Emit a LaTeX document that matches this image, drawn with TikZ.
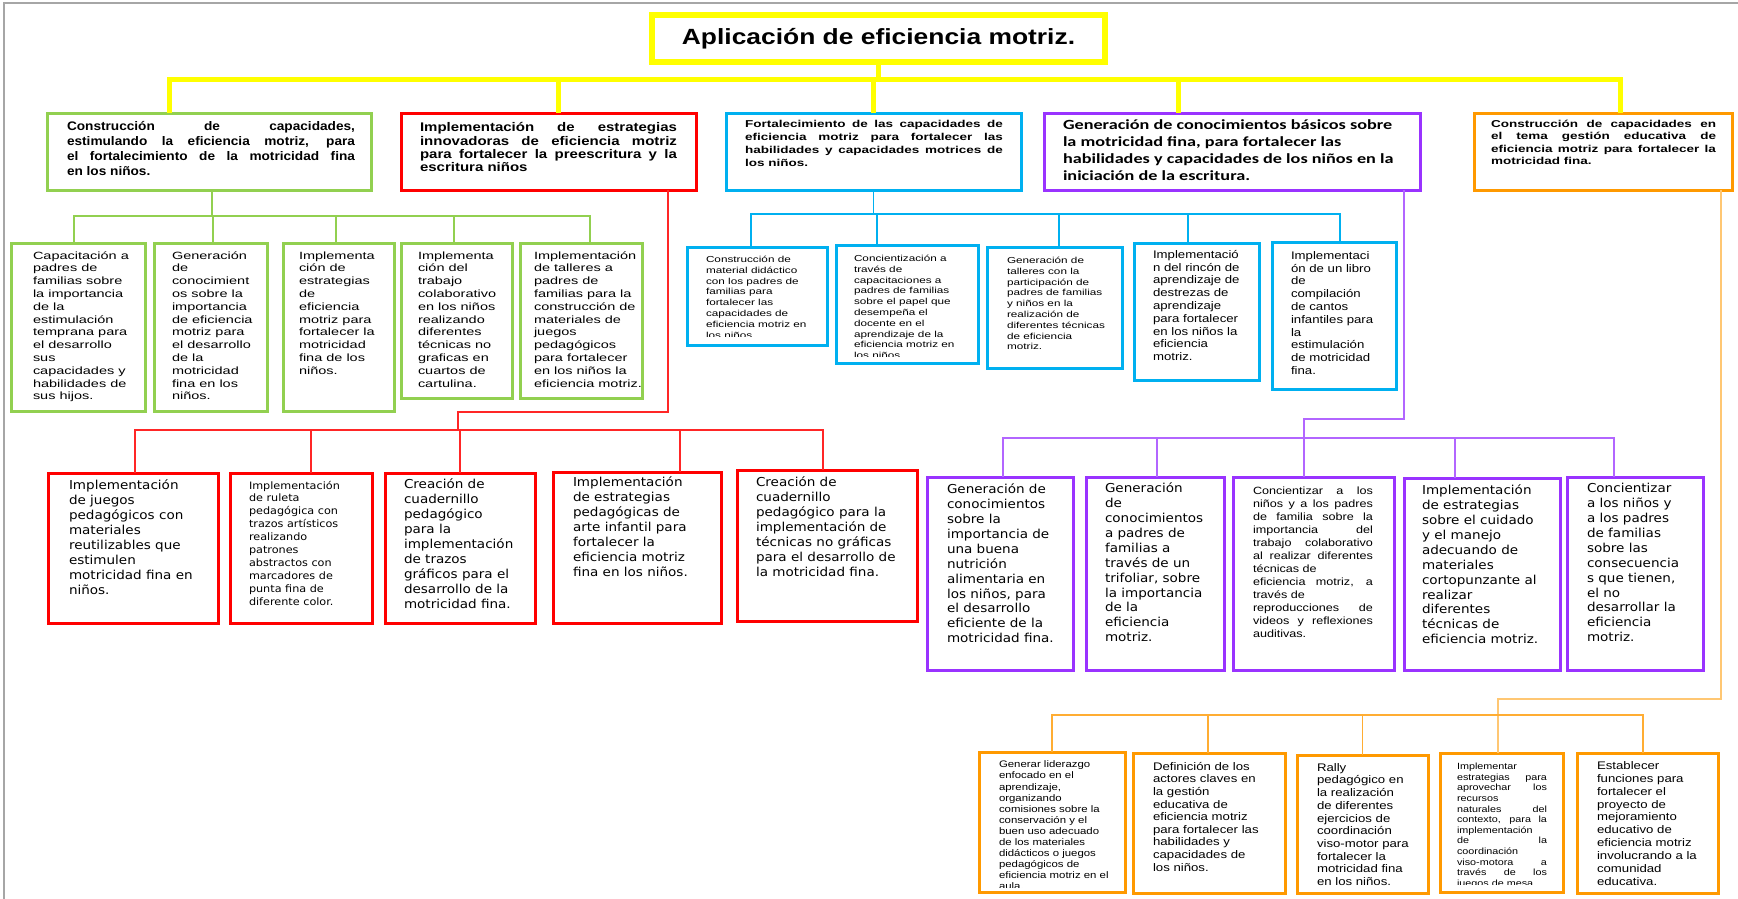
\documentclass[tikz,border=0pt]{standalone}
\usepackage{fontspec}
\setmainfont{Liberation Sans}[FakeStretch=1.2]
\newfontfamily\lsm{Liberation Sans}[FakeStretch=1.1]
\newfontfamily\lsg{Liberation Sans}[FakeStretch=1.38]
\newfontfamily\lsw{Liberation Sans}[FakeStretch=1.35]
\newfontfamily\carl{Carlito}[FakeStretch=1.3]
\newfontfamily\dvs{DejaVu Sans}[FakeStretch=1.1]
\hyphenpenalty=10000
\exhyphenpenalty=10000
\definecolor{cyel}{HTML}{FFFF00}
\definecolor{cgrn}{HTML}{92D050}
\definecolor{cred}{HTML}{FF0000}
\definecolor{cblu}{HTML}{00B0F0}
\definecolor{cpur}{HTML}{9933FF}
\definecolor{corg}{HTML}{FF9900}
\tikzset{
  bx/.style={draw=#1, line width=3pt, inner sep=0pt, outer sep=0pt, anchor=north west},
  tl/.style={inner sep=0pt, outer sep=0pt, anchor=north west, align=left},
  tj/.style={inner sep=0pt, outer sep=0pt, anchor=north west, text width=#1, align=justify},
  ycn/.style={draw=cyel, line width=5pt},
  gcn/.style={draw=cgrn, line width=1.6pt},
  rcn/.style={draw=cred!85, line width=1.6pt},
  bcn/.style={draw=cblu, line width=1.6pt},
  pcn/.style={draw=cpur!75, line width=1.6pt},
  ocn/.style={draw=corg!80, line width=1.8pt},
  fg/.style={font=\lsg\fontsize{10.5}{12.8}\selectfont},
  fr/.style={font=\dvs\fontsize{12.3}{15}\selectfont},
  frs/.style={font=\dvs\fontsize{10.2}{12.9}\selectfont},
  fbs/.style={font=\lsw\fontsize{8.7}{10.8}\selectfont},
  fbl/.style={font=\fontsize{11}{12.8}\selectfont},
  fp/.style={font=\dvs\fontsize{12.3}{14.9}\selectfont},
  fps/.style={font=\fontsize{10.5}{13}\selectfont},
}
\begin{document}
\begin{tikzpicture}[x=1pt,y=-1pt]
\useasboundingbox (0,0) rectangle (1738,899);
\draw[gray!70, line width=1.5pt] (4,899) -- (4,3) -- (1738,3);

% ---------- title ----------
\node[bx=cyel, line width=5.5pt, minimum width=453, minimum height=47] (T) at (652,15) {};
\node[inner sep=0pt, font=\bfseries\fontsize{22}{26}\selectfont] (Tt) at (T.center) {Aplicación de eficiencia motriz.};

% ---------- headers ----------
\node[bx=cgrn, minimum width=324, minimum height=77] (G0) at (47,113) {};
\node[bx=cred, minimum width=295, minimum height=77] (R0) at (401,113) {};
\node[bx=cblu, minimum width=295, minimum height=77] (B0) at (726,113) {};
\node[bx=cpur, minimum width=376, minimum height=77] (P0) at (1044,113) {};
\node[bx=corg, minimum width=258, minimum height=77] (O0) at (1474,113) {};

\node[tj=288pt, font=\lsm\bfseries\fontsize{12.4}{15}\selectfont] (G0t) at (67,120.4)
 {\strut Construcción de capacidades,\linebreak estimulando la eficiencia motriz, para\linebreak el fortalecimiento de la motricidad fina\linebreak en los niños.};
\node[tj=257pt, font=\bfseries\fontsize{12.5}{13.3}\selectfont] (R0t) at (420,122.4)
 {\strut Implementación de estrategias\linebreak innovadoras de eficiencia motriz\linebreak para fortalecer la preescritura y la\linebreak escritura niños};
\node[tj=258pt, font=\lsw\bfseries\fontsize{10}{13}\selectfont] (B0t) at (745,118)
 {\strut Fortalecimiento de las capacidades de\linebreak eficiencia motriz para fortalecer las\linebreak habilidades y capacidades motrices de\linebreak los niños.};
\node[tl, font=\carl\bfseries\fontsize{14}{17}\selectfont] (P0t) at (1063,117.3)
 {\strut Generación de conocimientos básicos sobre\\ la motricidad fina, para fortalecer las\\ habilidades y capacidades de los niños en la\\ iniciación de la escritura.};
\node[tj=225pt, font=\lsw\bfseries\fontsize{10}{12.6}\selectfont] (O0t) at (1491,118.2)
 {\strut Construcción de capacidades en\linebreak el tema gestión educativa de\linebreak eficiencia motriz para fortalecer la\linebreak motricidad fina.};

% ---------- yellow connectors ----------
\coordinate (yb) at (878.5,80);
\draw[ycn] (T.south) -- (yb);
\draw[ycn] ([xshift=-40pt]G0.north) |- (yb);
\draw[ycn] ([xshift=9.5pt]R0.north) |- (yb);
\draw[ycn] (B0.north) |- (yb);
\draw[ycn] ([xshift=-54pt]P0.north) |- (yb);
\draw[ycn] ([xshift=17pt]O0.north) |- (yb);

% ---------- green children ----------
\node[bx=cgrn, minimum width=134, minimum height=168] (g1) at (11,243) {};
\node[bx=cgrn, minimum width=113, minimum height=168] (g2) at (154,243) {};
\node[bx=cgrn, minimum width=111, minimum height=168] (g3) at (283,243) {};
\node[bx=cgrn, minimum width=111, minimum height=155] (g4) at (401,243) {};
\node[bx=cgrn, minimum width=122, minimum height=155] (g5) at (520,243) {};
\node[tl, fg] (g1t) at (33,250.2) {\strut Capacitación a\\ padres de\\ familias sobre\\ la importancia\\ de la\\ estimulación\\ temprana para\\ el desarrollo\\ sus\\ capacidades y\\ habilidades de\\ sus hijos.};
\node[tl, fg] (g2t) at (172,250.2) {\strut Generación\\ de\\ conocimient\\ os sobre la\\ importancia\\ de eficiencia\\ motriz para\\ el desarrollo\\ de la\\ motricidad\\ fina en los\\ niños.};
\node[tl, fg] (g3t) at (299,250.2) {\strut Implementa\\ ción de\\ estrategias\\ de\\ eficiencia\\ motriz para\\ fortalecer la\\ motricidad\\ fina de los\\ niños.};
\node[tl, fg] (g4t) at (418,250.2) {\strut Implementa\\ ción del\\ trabajo\\ colaborativo\\ en los niños\\ realizando\\ diferentes\\ técnicas no\\ graficas en\\ cuartos de\\ cartulina.};
\node[tl, fg] (g5t) at (534,250.2) {\strut Implementación\\ de talleres a\\ padres de\\ familias para la\\ construcción de\\ materiales de\\ juegos\\ pedagógicos\\ para fortalecer\\ en los niños la\\ eficiencia motriz.};
\coordinate (gb) at (212,216);
\draw[gcn] ([xshift=3pt]G0.south) -- (gb);
\draw[gcn] ([xshift=-4pt]g1.north) |- (gb);
\draw[gcn] ([xshift=9pt]g5.north) |- (gb);
\draw[gcn] ([xshift=2.5pt]g2.north) -- ([xshift=2.5pt]g2.north |- gb);
\draw[gcn] ([xshift=-2.5pt]g3.north) -- ([xshift=-2.5pt]g3.north |- gb);
\draw[gcn] ([xshift=-2.5pt]g4.north) -- ([xshift=-2.5pt]g4.north |- gb);

% ---------- blue children ----------
\node[bx=cblu, minimum width=140, minimum height=98] (b1) at (687,247) {};
\node[bx=cblu, minimum width=142, minimum height=118] (b2) at (836,245) {};
\node[bx=cblu, minimum width=135, minimum height=121] (b3) at (987,247) {};
\node[bx=cblu, minimum width=125, minimum height=137] (b4) at (1134,243) {};
\node[bx=cblu, minimum width=124, minimum height=147] (b5) at (1272,242) {};
\begin{scope}
\clip (687,247) rectangle (827,336.5);
\node[tl, fbs] (b1t) at (706,255) {\strut Construcción de\\ material didáctico\\ con los padres de\\ familias para\\ fortalecer las\\ capacidades de\\ eficiencia motriz en\\ los niños.};
\end{scope}
\begin{scope}
\clip (836,245) rectangle (978,356);
\node[tl, fbs] (b2t) at (854,254) {\strut Concientización a\\ través de\\ capacitaciones a\\ padres de familias\\ sobre el papel que\\ desempeña el\\ docente en el\\ aprendizaje de la\\ eficiencia motriz en\\ los niños.};
\end{scope}
\node[tl, fbs] (b3t) at (1007,256) {\strut Generación de\\ talleres con la\\ participación de\\ padres de familias\\ y niños en la\\ realización de\\ diferentes técnicas\\ de eficiencia\\ motriz.};
\node[tl, fbl] (b4t) at (1153,249.3) {\strut Implementació\\ n del rincón de\\ aprendizaje de\\ destrezas de\\ aprendizaje\\ para fortalecer\\ en los niños la\\ eficiencia\\ motriz.};
\node[tl, fbl] (b5t) at (1291,250.4) {\strut Implementaci\\ ón de un libro\\ de\\ compilación\\ de cantos\\ infantiles para\\ la\\ estimulación\\ de motricidad\\ fina.};
\coordinate (bb) at (873.5,214);
\draw[bcn] (B0.south) -- (bb);
\draw[bcn] ([xshift=-6pt]b1.north) |- (bb);
\draw[bcn] ([xshift=6pt]b5.north) |- (bb);
\draw[bcn] ([xshift=-30pt]b2.north) -- ([xshift=-30pt]b2.north |- bb);
\draw[bcn] ([xshift=4.5pt]b3.north) -- ([xshift=4.5pt]b3.north |- bb);
\draw[bcn] ([xshift=-8.5pt]b4.north) -- ([xshift=-8.5pt]b4.north |- bb);

% ---------- red children ----------
\node[bx=cred, minimum width=170, minimum height=150] (r1) at (48,473) {};
\node[bx=cred, minimum width=142, minimum height=150] (r2) at (230,473) {};
\node[bx=cred, minimum width=150, minimum height=150] (r3) at (385,473) {};
\node[bx=cred, minimum width=168, minimum height=151] (r4) at (553,472) {};
\node[bx=cred, minimum width=180, minimum height=151] (r5) at (737,470) {};
\node[tl, fr] (r1t) at (69,479.2) {\strut Implementación\\ de juegos\\ pedagógicos con\\ materiales\\ reutilizables que\\ estimulen\\ motricidad fina en\\ niños.};
\node[tl, frs] (r2t) at (249,480) {\strut Implementación\\ de ruleta\\ pedagógica con\\ trazos artísticos\\ realizando\\ patrones\\ abstractos con\\ marcadores de\\ punta fina de\\ diferente color.};
\node[tl, fr] (r3t) at (404,478.2) {\strut Creación de\\ cuadernillo\\ pedagógico\\ para la\\ implementación\\ de trazos\\ gráficos para el\\ desarrollo de la\\ motricidad fina.};
\node[tl, fr] (r4t) at (573,476.2) {\strut Implementación\\ de estrategias\\ pedagógicas de\\ arte infantil para\\ fortalecer la\\ eficiencia motriz\\ fina en los niños.};
\node[tl, fr] (r5t) at (756,476.2) {\strut Creación de\\ cuadernillo\\ pedagógico para la\\ implementación de\\ técnicas no gráficas\\ para el desarrollo de\\ la motricidad fina.};
\coordinate (rj) at (458,412);
\coordinate (rb) at (458,430);
\draw[rcn] ([xshift=119.5pt]R0.south) |- (rj) -- (rb);
\draw[rcn] ([xshift=2pt]r1.north) |- (rb);
\draw[rcn] ([xshift=-4pt]r5.north) |- (rb);
\draw[rcn] ([xshift=10pt]r2.north) -- ([xshift=10pt]r2.north |- rb);
\draw[rcn] (r3.north) -- (r3.north |- rb);
\draw[rcn] ([xshift=43pt]r4.north) -- ([xshift=43pt]r4.north |- rb);

% ---------- purple children ----------
\node[bx=cpur, minimum width=146, minimum height=193] (p1) at (927,477) {};
\node[bx=cpur, minimum width=138, minimum height=193] (p2) at (1086,477) {};
\node[bx=cpur, minimum width=161, minimum height=193] (p3) at (1233,477) {};
\node[bx=cpur, minimum width=156, minimum height=192] (p4) at (1404,478) {};
\node[bx=cpur, minimum width=136, minimum height=193] (p5) at (1567,477) {};
\node[tl, fp] (p1t) at (947,483.3) {\strut Generación de\\ conocimientos\\ sobre la\\ importancia de\\ una buena\\ nutrición\\ alimentaria en\\ los niños, para\\ el desarrollo\\ eficiente de la\\ motricidad fina.};
\node[tl, fp] (p2t) at (1105,482.3) {\strut Generación\\ de\\ conocimientos\\ a padres de\\ familias a\\ través de un\\ trifoliar, sobre\\ la importancia\\ de la\\ eficiencia\\ motriz.};
\node[tj=120pt, fps] (p3t) at (1253,485) {\strut Concientizar a los\linebreak niños y a los padres\linebreak de familia sobre la\linebreak importancia del\linebreak trabajo colaborativo\linebreak al realizar diferentes\linebreak técnicas de\\ eficiencia motriz, a\linebreak través de\\ reproducciones de\linebreak videos y reflexiones\linebreak auditivas.};
\node[tl, fp] (p4t) at (1422,484.3) {\strut Implementación\\ de estrategias\\ sobre el cuidado\\ y el manejo\\ adecuando de\\ materiales\\ cortopunzante al\\ realizar\\ diferentes\\ técnicas de\\ eficiencia motriz.};
\node[tl, fp] (p5t) at (1587,482.3) {\strut Concientizar\\ a los niños y\\ a los padres\\ de familias\\ sobre las\\ consecuencia\\ s que tienen,\\ el no\\ desarrollar la\\ eficiencia\\ motriz.};
\coordinate (pj) at (1304,419);
\coordinate (pb) at (1304,438);
\draw[pcn] ([xshift=172pt]P0.south) |- (pj) -- (pb);
\draw[pcn] ([xshift=3pt]p1.north) |- (pb);
\draw[pcn] ([xshift=-21pt]p5.north) |- (pb);
\draw[pcn] ([xshift=2pt]p2.north) -- ([xshift=2pt]p2.north |- pb);
\draw[pcn] ([xshift=-9.5pt]p3.north) -- ([xshift=-9.5pt]p3.north |- pb);
\draw[pcn] ([xshift=-27pt]p4.north) -- ([xshift=-27pt]p4.north |- pb);

% ---------- orange children ----------
\node[bx=corg, minimum width=146, minimum height=140] (o1) at (979,752) {};
\node[bx=corg, minimum width=152, minimum height=140] (o2) at (1133,753) {};
\node[bx=corg, minimum width=131, minimum height=138] (o3) at (1297,755) {};
\node[bx=corg, minimum width=123, minimum height=139] (o4) at (1440,753) {};
\node[bx=corg, minimum width=141, minimum height=140] (o5) at (1577,753) {};
\begin{scope}
\clip (979,752) rectangle (1125,887.5);
\node[tl, font=\fontsize{9.5}{11.1}\selectfont] (o1t) at (999,760.1) {\strut Generar liderazgo\\ enfocado en el\\ aprendizaje,\\ organizando\\ comisiones sobre la\\ conservación y el\\ buen uso adecuado\\ de los materiales\\ didácticos o juegos\\ pedagógicos de\\ eficiencia motriz en el\\ aula.};
\end{scope}
\node[tl, font=\fontsize{11}{12.6}\selectfont] (o2t) at (1153,761.5) {\strut Definición de los\\ actores claves en\\ la gestión\\ educativa de\\ eficiencia motriz\\ para fortalecer las\\ habilidades y\\ capacidades de\\ los niños.};
\node[tl, font=\fontsize{11}{12.7}\selectfont] (o3t) at (1317,762.4) {\strut Rally\\ pedagógico en\\ la realización\\ de diferentes\\ ejercicios de\\ coordinación\\ viso-motor para\\ fortalecer la\\ motricidad fina\\ en los niños.};
\begin{scope}
\clip (1440,753) rectangle (1563,884);
\node[tj=90pt, font=\fontsize{9}{10.6}\selectfont] (o4t) at (1457,762.3) {\strut Implementar\\ estrategias para\linebreak aprovechar los\linebreak recursos\\ naturales del\linebreak contexto, para la\linebreak implementación\\ de la\linebreak coordinación\\ viso-motora a\linebreak través de los\linebreak juegos de mesa};
\end{scope}
\node[tl, font=\fontsize{11}{12.9}\selectfont] (o5t) at (1597,760.3) {\strut Establecer\\ funciones para\\ fortalecer el\\ proyecto de\\ mejoramiento\\ educativo de\\ eficiencia motriz\\ involucrando a la\\ comunidad\\ educativa.};
\coordinate (oj) at (1498,699);
\coordinate (obl) at (1052,715);
\coordinate (obr) at (1643,715);
\draw[ocn, draw=corg!55] ([xshift=118pt]O0.south) |- (oj) -- (oj |- o4.north);
\draw[ocn] (o1.north) -- (obl) -- (obr) -- (obr |- o5.north);
\draw[ocn] ([xshift=-1pt]o2.north) -- ([xshift=-1pt]o2.north |- obl);
\draw[ocn] (o3.north) -- (o3.north |- obl);
\end{tikzpicture}
\end{document}
